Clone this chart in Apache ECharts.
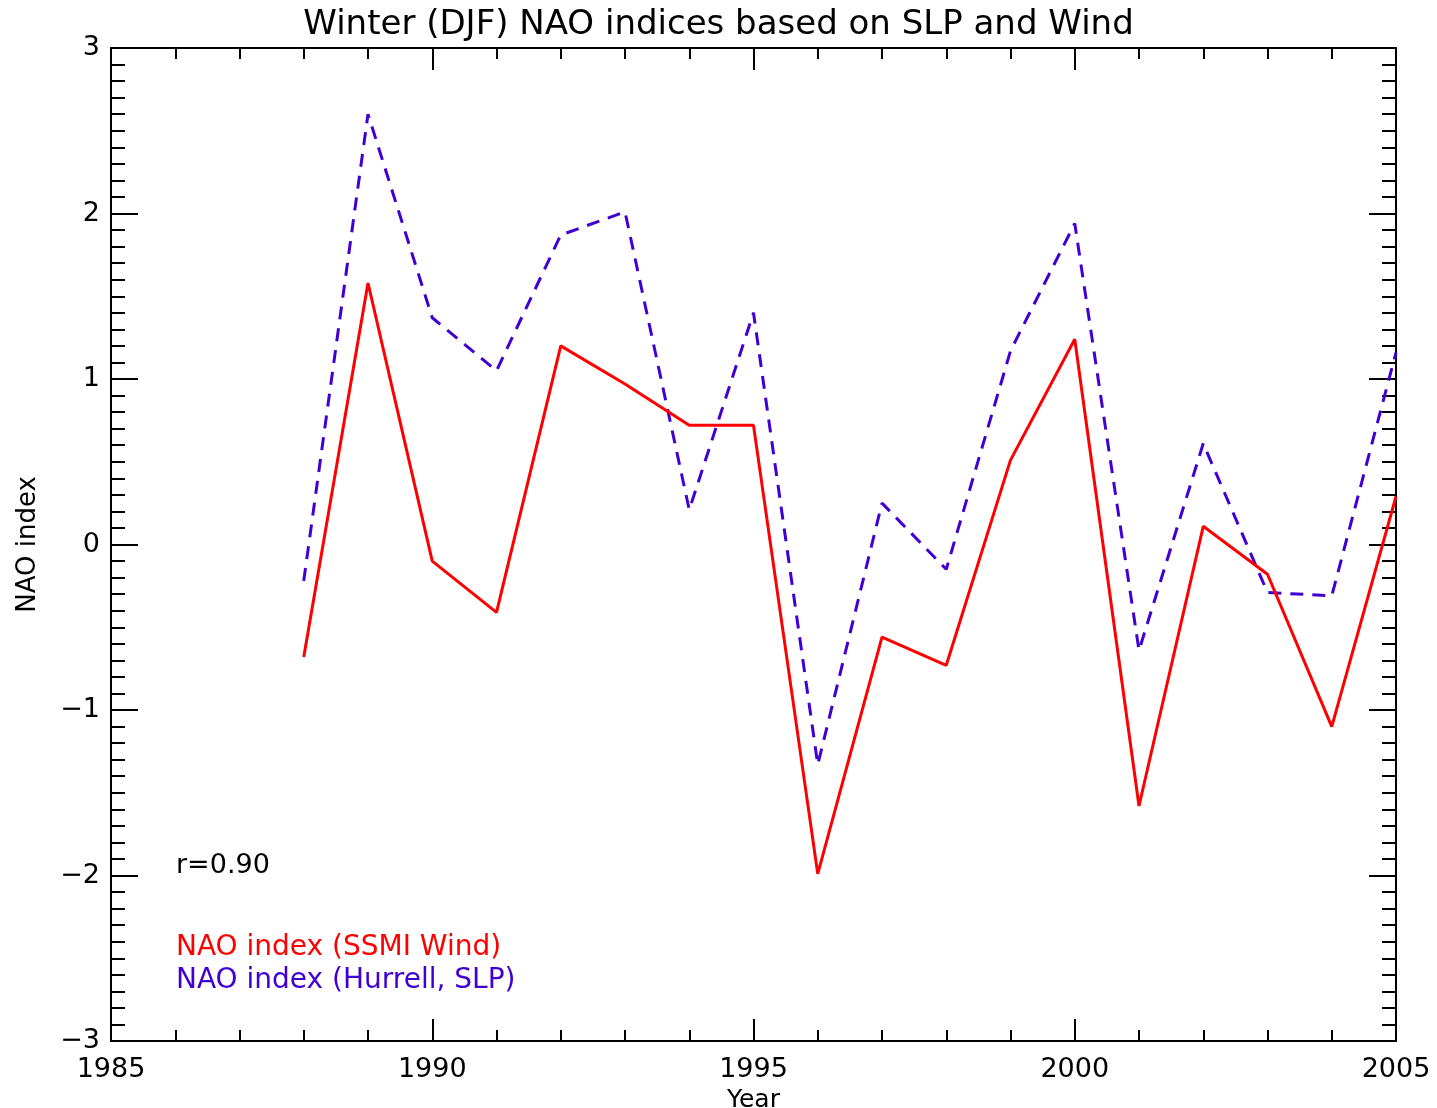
<!DOCTYPE html>
<html>
<head>
<meta charset="utf-8">
<script src="https://cdn.jsdelivr.net/npm/echarts@6/dist/echarts.min.js"></script>
<style>
html,body{margin:0;padding:0;background:#fff;}
#chart{width:1437px;height:1108px;}
</style>
</head>
<body>
<div id="chart"></div>
<script>
const years = [1988,1989,1990,1991,1992,1993,1994,1995,1996,1997,1998,1999,2000,2001,2002,2003,2004,2005];
const ssmiWind = [-0.68,1.58,-0.10,-0.41,1.20,0.97,0.72,0.72,-1.99,-0.56,-0.73,0.51,1.24,-1.58,0.11,-0.18,-1.10,0.29];
const hurrellSLP = [-0.22,2.60,1.37,1.05,1.87,2.01,0.21,1.40,-1.33,0.25,-0.15,1.17,1.94,-0.64,0.61,-0.29,-0.31,1.16];
const titleText = 'Winter (DJF) NAO indices based on SLP and Wind';
const corrText = 'r=0.90';
const legendWind = 'NAO index (SSMI Wind)';
const legendSLP = 'NAO index (Hurrell, SLP)';

const RED = '#ff0000';
const BLUE = '#4000d4';
const FONT = 'DejaVu Sans';

const chart = echarts.init(document.getElementById('chart'), null, {renderer: 'canvas'});

function fmtY(v){ return v < 0 ? '\u2212' + Math.abs(v) : String(v); }
function fmtX(v){ return String(v); }

const xBase = {
  type: 'value', min: 1985, max: 2005, interval: 5,
  axisLine: {show: true, onZero: false, lineStyle: {color: '#000', width: 2}},
  axisTick: {show: true, inside: true, length: 22, lineStyle: {color: '#000', width: 2}},
  minorTick: {show: true, splitNumber: 5, length: 11, lineStyle: {color: '#000', width: 2}},
  splitLine: {show: false}, minorSplitLine: {show: false}
};
const yBase = {
  type: 'value', min: -3, max: 3, interval: 1,
  axisLine: {show: true, onZero: false, lineStyle: {color: '#000', width: 2}},
  axisTick: {show: true, inside: true, length: 27, lineStyle: {color: '#000', width: 2}},
  minorTick: {show: true, splitNumber: 10, length: 14, lineStyle: {color: '#000', width: 2}},
  splitLine: {show: false}, minorSplitLine: {show: false}
};

const option = {
  backgroundColor: '#fff',
  animation: false,
  title: {
    text: titleText, left: 'center', top: 3,
    textStyle: {fontFamily: FONT, fontSize: 34, fontWeight: 'normal', color: '#000'}
  },
  grid: {left: 111, right: 41, top: 48, bottom: 67, containLabel: false, outerBoundsMode: 'none'},
  xAxis: [
    Object.assign({}, xBase, {
      position: 'bottom',
      name: 'Year', nameLocation: 'middle', nameGap: 40,
      nameTextStyle: {fontFamily: FONT, fontSize: 25, color: '#000'},
      axisLabel: {show: true, margin: 15, fontFamily: FONT, fontSize: 27, color: '#000', formatter: fmtX}
    }),
    Object.assign({}, xBase, {position: 'top', axisLabel: {show: false}})
  ],
  yAxis: [
    Object.assign({}, yBase, {
      position: 'left',
      name: 'NAO index', nameLocation: 'middle', nameGap: 70, nameRotate: 90,
      nameTextStyle: {fontFamily: FONT, fontSize: 26, color: '#000'},
      axisLabel: {show: true, margin: 11, fontFamily: FONT, fontSize: 27, color: '#000', formatter: fmtY}
    }),
    Object.assign({}, yBase, {position: 'right', axisLabel: {show: false}})
  ],
  series: [
    {
      name: legendSLP, type: 'line', xAxisIndex: 0, yAxisIndex: 0,
      data: years.map((y, i) => [y, hurrellSLP[i]]),
      showSymbol: false, symbol: 'none',
      lineStyle: {color: BLUE, width: 3, type: [13, 9]}
    },
    {
      name: legendWind, type: 'line', xAxisIndex: 0, yAxisIndex: 0,
      data: years.map((y, i) => [y, ssmiWind[i]]),
      showSymbol: false, symbol: 'none',
      lineStyle: {color: RED, width: 3}
    }
  ],
  graphic: [
    {type: 'text', left: 176, top: 852, style: {text: corrText, fontFamily: FONT, fontSize: 27, fill: '#000'}},
    {type: 'text', left: 176, top: 934, style: {text: legendWind, fontFamily: FONT, fontSize: 28, fill: RED}},
    {type: 'text', left: 176, top: 967, style: {text: legendSLP, fontFamily: FONT, fontSize: 28, fill: BLUE}}
  ]
};
chart.setOption(option);
</script>
</body>
</html>
